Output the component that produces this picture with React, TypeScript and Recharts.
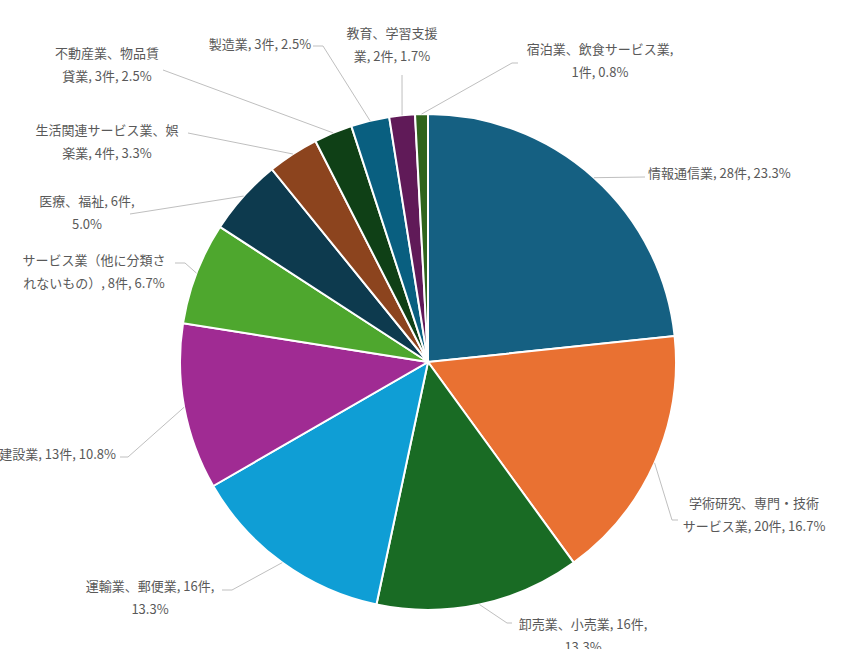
import React from 'react';
import { PieChart, Pie, Cell } from 'recharts';

const categories = [
  '情報通信業',
  '学術研究、専門・技術サービス業',
  '卸売業、小売業',
  '運輸業、郵便業',
  '建設業',
  'サービス業（他に分類されないもの）',
  '医療、福祉',
  '生活関連サービス業、娯楽業',
  '不動産業、物品賃貸業',
  '製造業',
  '教育、学習支援業',
  '宿泊業、飲食サービス業',
];

const counts = [28, 20, 16, 16, 13, 8, 6, 4, 3, 3, 2, 1];

const colors = [
  '#156082', '#E97132', '#196B24', '#0F9ED5', '#A02B93', '#4EA72E',
  '#0D3A4E', '#8C441E', '#0F4016', '#095F80', '#601A58', '#2F641C',
];

// label placement: where the text goes and how the leader line bends
type LabelLayout = {
  x: number;
  y: number;
  anchor: 'start' | 'middle' | 'end';
  breakAt?: number;
  path: [number, number][];
};

const labelLayout: LabelLayout[] = [
  { x: 648, y: 172, anchor: 'start', path: [[645, 177]] },
  { x: 754, y: 502, anchor: 'middle', breakAt: 10, path: [[672, 520], [678, 520]] },
  { x: 583, y: 623, anchor: 'middle', breakAt: 13, path: [[507, 623], [512, 623]] },
  { x: 150, y: 585, anchor: 'middle', breakAt: 13, path: [[232, 590], [222, 590]] },
  { x: 116, y: 453, anchor: 'end', path: [[128, 457], [120, 457]] },
  { x: 94, y: 259, anchor: 'middle', breakAt: 11, path: [[185, 263], [175, 263]] },
  { x: 87, y: 200, anchor: 'middle', breakAt: 10, path: [[130, 214]] },
  { x: 107, y: 129, anchor: 'middle', breakAt: 11, path: [[188, 133]] },
  { x: 107, y: 52, anchor: 'middle', breakAt: 8, path: [[163, 70]] },
  { x: 260, y: 43, anchor: 'middle', path: [[323, 46], [313, 46]] },
  { x: 392, y: 32, anchor: 'middle', breakAt: 7, path: [[402, 75]] },
  { x: 600, y: 48, anchor: 'middle', breakAt: 12, path: [[512, 63], [518, 63]] },
];

const total = counts.reduce((a, b) => a + b, 0);

const data = categories.map((name, i) => ({
  name,
  value: counts[i],
}));

const RAD = Math.PI / 180;

const renderLabel = (props: any) => {
  const { cx, cy, midAngle, outerRadius, index, name, value } = props;
  const layout = labelLayout[index];
  const pct = ((value / total) * 100).toFixed(1);
  const full = `${name}, ${value}件, ${pct}%`;
  const lines = layout.breakAt
    ? [full.slice(0, layout.breakAt), full.slice(layout.breakAt).trim()]
    : [full];

  const sx = cx + outerRadius * Math.cos(-midAngle * RAD);
  const sy = cy + outerRadius * Math.sin(-midAngle * RAD);
  const pts = [[sx, sy], ...layout.path].map((p) => p.join(',')).join(' ');

  return (
    <g key={`label-${index}`}>
      <polyline points={pts} fill="none" stroke="#bfbfbf" strokeWidth={1} />
      {lines.map((t, j) => (
        <text
          key={j}
          x={layout.x}
          y={layout.y + j * 23}
          textAnchor={layout.anchor}
          dominantBaseline="central"
          fill="#595959"
          fontSize={13}
          fontFamily="'Noto Sans CJK JP', 'Noto Sans', sans-serif"
        >
          {t}
        </text>
      ))}
    </g>
  );
};

export default function App() {
  return (
    <div style={{ position: 'absolute', left: 0, top: 0, width: 846, height: 649, background: '#fff' }}>
      <PieChart width={846} height={649} margin={{ top: 0, right: 0, bottom: 0, left: 0 }}>
        <Pie
          data={data}
          dataKey="value"
          nameKey="name"
          cx={428}
          cy={362}
          outerRadius={248}
          startAngle={90}
          endAngle={-270}
          stroke="#ffffff"
          strokeWidth={2}
          label={renderLabel}
          labelLine={false}
          isAnimationActive={false}
        >
          {data.map((d, i) => (
            <Cell key={d.name} fill={colors[i]} />
          ))}
        </Pie>
      </PieChart>
    </div>
  );
}
